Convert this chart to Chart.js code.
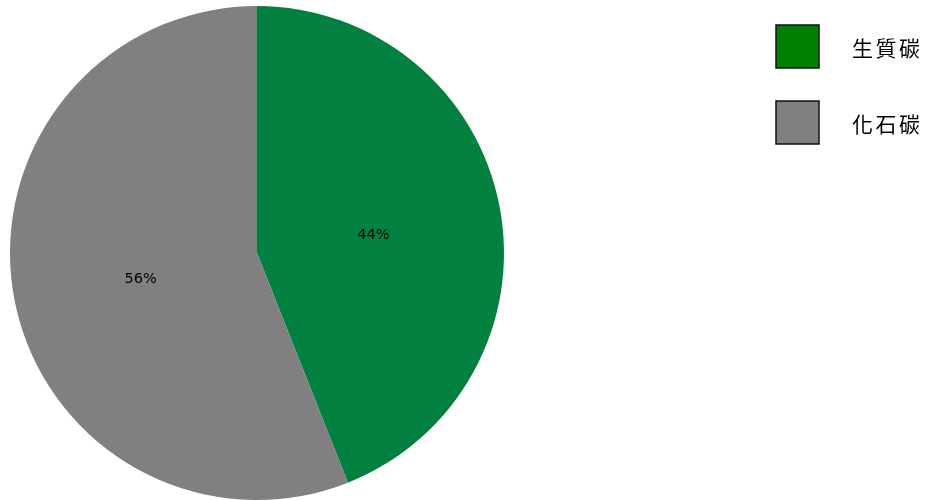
<!DOCTYPE html>
<html>
<head>
<meta charset="utf-8">
<script src="https://cdn.jsdelivr.net/npm/chart.js@4/dist/chart.umd.min.js"></script>
<style>
html,body{margin:0;padding:0;background:#fff;}
#wrap{position:relative;width:925px;height:500px;overflow:hidden;}
</style>
</head>
<body>
<div id="wrap"><canvas id="c" width="925" height="500"></canvas></div>
<script>
const categories = ['生質碳', '化石碳'];
const values = [44, 56];
const percentLabels = ['44%', '56%'];
const sliceColors = ['#01803f', '#808080'];
const legendColors = ['#008000', '#808080'];

const pctPlugin = {
  id: 'pct',
  afterDatasetsDraw(chart) {
    const ctx = chart.ctx;
    const meta = chart.getDatasetMeta(0);
    ctx.save();
    ctx.font = '14.5px "DejaVu Sans"';
    ctx.fillStyle = '#000';
    ctx.textAlign = 'center';
    ctx.textBaseline = 'middle';
    meta.data.forEach((arc, i) => {
      const p = arc.getProps(['x','y','startAngle','endAngle','outerRadius'], true);
      const mid = (p.startAngle + p.endAngle) / 2;
      const r = p.outerRadius * 0.48;
      ctx.fillText(percentLabels[i], p.x + r * Math.cos(mid), p.y + 4.5 + r * Math.sin(mid));
    });
    ctx.restore();
  }
};

const legendPlugin = {
  id: 'sideLegend',
  afterDraw(chart) {
    const ctx = chart.ctx;
    ctx.save();
    categories.forEach((name, i) => {
      const y = 25 + i * 76;
      ctx.fillStyle = legendColors[i];
      ctx.fillRect(776, y, 43, 43);
      ctx.lineWidth = 1.5;
      ctx.strokeStyle = '#111';
      ctx.strokeRect(776, y, 43, 43);
      ctx.fillStyle = '#000';
      ctx.font = '21px "Noto Sans CJK TC"';
      ctx.textAlign = 'left';
      ctx.textBaseline = 'middle';
      ctx.letterSpacing = '2.5px';
      ctx.fillText(name, 852, y + 23);
    });
    ctx.restore();
  }
};

new Chart(document.getElementById('c'), {
  type: 'pie',
  data: {
    labels: categories,
    datasets: [{
      data: values,
      backgroundColor: sliceColors,
      borderWidth: 0
    }]
  },
  options: {
    responsive: false,
    animation: false,
    layout: { padding: { top: 6, bottom: 0, left: 10, right: 421 } },
    plugins: {
      legend: { display: false },
      tooltip: { enabled: false }
    }
  },
  plugins: [pctPlugin, legendPlugin]
});
</script>
</body>
</html>
